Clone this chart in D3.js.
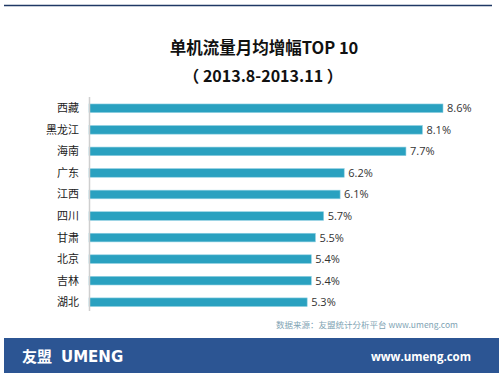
<!DOCTYPE html>
<html>
<head>
<meta charset="utf-8">
<script src="https://cdn.jsdelivr.net/npm/d3@7"></script>
<style>
  body { margin: 0; background: #fff; }
  svg { display: block; font-family: "Noto Sans CJK SC", "Open Sans", sans-serif; }
</style>
</head>
<body>
<div id="chart"></div>
<script>
// data
const provinces = ['西藏', '黑龙江', '海南', '广东', '江西', '四川', '甘肃', '北京', '吉林', '湖北'];
const growth = [8.6, 8.1, 7.7, 6.2, 6.1, 5.7, 5.5, 5.4, 5.4, 5.3];
const titleText = '单机流量月均增幅TOP 10';
const subtitleText = '（ 2013.8-2013.11 ）';

const width = 501, height = 377;

const svg = d3.select('#chart').append('svg')
  .attr('width', width)
  .attr('height', height);

// top rule
svg.append('line')
  .attr('x1', 4).attr('x2', 492)
  .attr('y1', 5.5).attr('y2', 5.5)
  .attr('stroke', '#1f3864')
  .attr('stroke-width', 1.5);

// titles
svg.append('text')
  .attr('x', 264).attr('y', 54)
  .attr('text-anchor', 'middle')
  .style('font-size', '16.5px')
  .style('font-weight', 'bold')
  .style('fill', '#111')
  .text(titleText);

svg.append('text')
  .attr('x', 263).attr('y', 82)
  .attr('text-anchor', 'middle')
  .style('font-size', '16px')
  .style('font-weight', 'bold')
  .style('fill', '#111')
  .text(subtitleText);

// scales
const x = d3.scaleLinear().domain([0, 8.6]).range([89, 443]);
const y = d3.scaleBand().domain(provinces).range([97.5, 313]).paddingInner(0.6).paddingOuter(0.3);

const data = provinces.map((p, i) => ({ name: p, value: growth[i] }));

// bars
svg.selectAll('.bar')
  .data(data)
  .enter().append('rect')
  .attr('class', 'bar')
  .attr('x', x(0))
  .attr('y', d => y(d.name))
  .attr('width', d => x(d.value) - x(0))
  .attr('height', y.bandwidth())
  .attr('fill', '#2aa1c0')
  .attr('stroke', '#8fd0e2')
  .attr('stroke-width', 0.6);

// axis line
svg.append('line')
  .attr('x1', 89.5).attr('x2', 89.5)
  .attr('y1', 97).attr('y2', 311)
  .attr('stroke', '#cfcfcf')
  .attr('stroke-width', 1.5);

// category labels
svg.selectAll('.cat')
  .data(data)
  .enter().append('text')
  .attr('class', 'cat')
  .attr('x', 79)
  .attr('y', d => y(d.name) + y.bandwidth() / 2)
  .attr('dy', '0.36em')
  .attr('text-anchor', 'end')
  .style('font-size', '11px')
  .style('fill', '#222')
  .text(d => d.name);

// value labels
svg.selectAll('.val')
  .data(data)
  .enter().append('text')
  .attr('class', 'val')
  .attr('x', d => x(d.value) + 4)
  .attr('y', d => y(d.name) + y.bandwidth() / 2)
  .attr('dy', '0.36em')
  .style('font-size', '11px')
  .style('font-family', '"Open Sans", sans-serif')
  .style('fill', '#333')
  .text(d => d.value.toFixed(1) + '%');

// source note
svg.append('text')
  .attr('x', 458).attr('y', 328)
  .attr('text-anchor', 'end')
  .style('font-size', '8.5px')
  .style('fill', '#7fa4b4')
  .text('数据来源：友盟统计分析平台 www.umeng.com');

// footer band
svg.append('rect')
  .attr('x', 4).attr('y', 338)
  .attr('width', 495).attr('height', 35)
  .attr('fill', '#2c5593');

svg.append('text')
  .attr('x', 22).attr('y', 362)
  .style('font-size', '15px')
  .style('font-weight', 'bold')
  .style('fill', '#fff')
  .text('友盟');

svg.append('text')
  .attr('x', 61).attr('y', 362)
  .style('font-size', '15px')
  .style('font-weight', 'bold')
  .style('font-family', '"DejaVu Sans", sans-serif')
  .style('fill', '#fff')
  .text('UMENG');

svg.append('text')
  .attr('x', 471).attr('y', 361)
  .attr('text-anchor', 'end')
  .style('font-size', '11.5px')
  .style('font-weight', 'bold')
  .style('font-family', '"Open Sans", sans-serif')
  .style('fill', '#fff')
  .text('www.umeng.com');
</script>
</body>
</html>
